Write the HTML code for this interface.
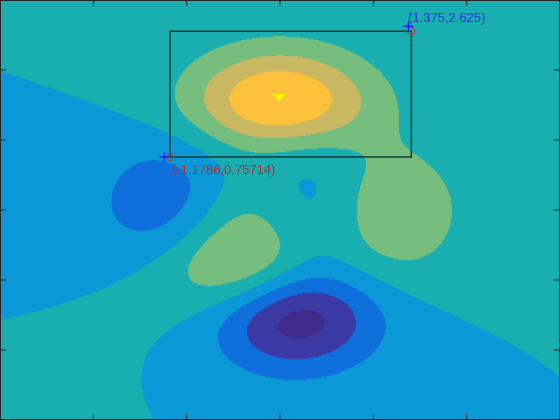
<!DOCTYPE html>
<html><head><meta charset="utf-8"><style>
html,body{margin:0;padding:0;background:#fff;}
#wrap{position:relative;width:560px;height:420px;overflow:hidden;}
canvas,svg{position:absolute;left:0;top:0;}
</style></head><body>
<div id="wrap">
<canvas id="c" width="560" height="420"></canvas>
<svg id="s" width="560" height="420"></svg>
</div>
<script>
const levels = [-6, -4, -2, 0, 2, 4, 6];
const levelColors = ["#3e2b8a","#3b3aa5","#0f6fdd","#0b98d6","#19aeb0","#76be7e","#c9b862","#fcc13a"];
const xTicks = [-2, -1, 0, 1, 2];
const yTicks = [-2, -1, 0, 1, 2];
const rectCorners = [[-1.1786, 0.75714], [1.375, 2.625]];
const xMin = -3, xMax = 3, yMin = -3, yMax = 3;
const W = 560, H = 420;
function sx(x){return (x - xMin) / (xMax - xMin) * W;}
function sy(y){return (yMax - y) / (yMax - yMin) * H;}
function peaks(x,y){
  return 3*(1-x)*(1-x)*Math.exp(-x*x-(y+1)*(y+1))
   - 10*(x/5 - x*x*x - Math.pow(y,5))*Math.exp(-x*x-y*y)
   - 1/3*Math.exp(-(x+1)*(x+1)-y*y);
}
function hex(c){return [parseInt(c.substr(1,2),16),parseInt(c.substr(3,2),16),parseInt(c.substr(5,2),16)];}
const rgb = levelColors.map(hex);
const ctx = document.getElementById('c').getContext('2d');
const img = ctx.createImageData(W,H);
for(let j=0;j<H;j++){for(let i=0;i<W;i++){
  const x = xMin + (i+0.5)/W*(xMax-xMin), y = yMax - (j+0.5)/H*(yMax-yMin);
  const z = peaks(x,y); let k=0; while(k<levels.length && z>=levels[k]) k++;
  const p=(j*W+i)*4, c=rgb[k]; img.data[p]=c[0];img.data[p+1]=c[1];img.data[p+2]=c[2];img.data[p+3]=255;
}}
ctx.putImageData(img,0,0);
const NS="http://www.w3.org/2000/svg", svg=document.getElementById('s');
function mk(t,a){const e=document.createElementNS(NS,t);for(const k in a)e.setAttribute(k,a[k]);svg.appendChild(e);return e;}
let e;
e=mk('rect',{x:0.5,y:0.5,width:559,height:419,fill:'none',stroke:'#262626','stroke-width':1});


xTicks.forEach(v=>{const X=sx(v);
 e=mk('line',{x1:X,y1:420,x2:X,y2:414,stroke:'#262626'});
 
 
 e=mk('line',{x1:X,y1:0,x2:X,y2:6,stroke:'#262626'});
 
 });
yTicks.forEach(v=>{const Y=sy(v);
 e=mk('line',{x1:0,y1:Y,x2:6,y2:Y,stroke:'#262626'});
 
 
 e=mk('line',{x1:560,y1:Y,x2:554,y2:Y,stroke:'#262626'});
 
 });
e=mk('polygon',{points:`${sx(-0.0095)-7},${sy(1.6)-4} ${sx(-0.0095)+7},${sy(1.6)-4} ${sx(-0.0095)},${sy(1.6)+4}`,fill:'#f5f20f'});


const [a,b]=rectCorners;
const x0=sx(a[0]), y1=sy(a[1]), x1=sx(b[0])+3, y0=sy(b[1])+5;
e=mk('rect',{x:x0,y:y0,width:x1-x0,height:y1-y0,fill:'none',stroke:'#1a3a3a','stroke-width':1.5});


function corner(cxp,cyp,px,py,col,lbl,tx,ty,name){
 e=mk('circle',{cx:cxp,cy:cyp,r:3.5,fill:'none',stroke:'#b04040','stroke-width':1});
 
 
 e=mk('path',{d:`M${px-5},${py}H${px+5}M${px},${py-5}V${py+5}`,stroke:'#1010ff','stroke-width':1.2});
 
 
 e=mk('text',{x:tx,y:ty,fill:col,'font-family':'Liberation Sans, sans-serif','font-size':13});
 e.textContent=lbl;
 
 
}
corner(x0,y1,x0-6,y1,'#c0282a','(-1.1786,0.75714)',172,174,'lower-left-corner');
corner(x1,y0,sx(b[0]),sy(b[1]),'#1a2ee0','(1.375,2.625)',408,22,'upper-right-corner');
</script>
</body></html>
